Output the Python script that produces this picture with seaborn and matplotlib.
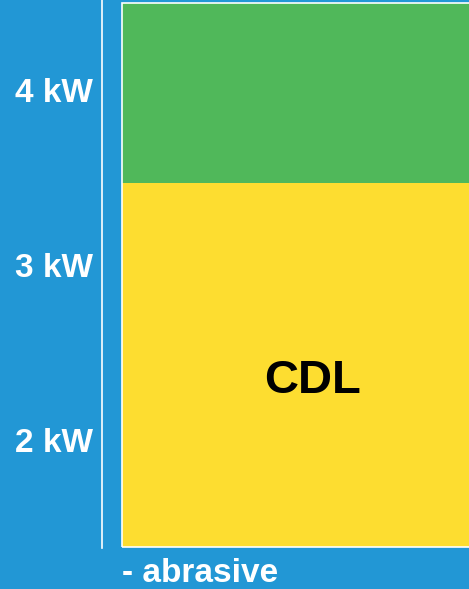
import matplotlib
matplotlib.use("Agg")
import matplotlib.pyplot as plt
import seaborn as sns

# data (kW)
category = ["CDL"]
base_kw = [1.389]      # bottom of the block
yellow_top = [3.469]   # yellow / green boundary
green_top = [4.497]    # top of the block
tick_values = [2, 3, 4]
tick_labels = ["2 kW", "3 kW", "4 kW"]

bg = "#2297D5"
yellow = "#FDDD30"
green = "#50B85A"

sns.set_style("white")
plt.rcParams["font.family"] = ["Liberation Sans", "DejaVu Sans"]

fig = plt.figure(figsize=(4.69, 5.89), dpi=100, facecolor=bg)
ax = fig.add_axes([101.5 / 469, 41 / 589, 1 - 101.5 / 469, 548 / 589])
ax.set_facecolor(bg)

yellow_h = [t - b for t, b in zip(yellow_top, base_kw)]
green_h = [t - b for t, b in zip(green_top, yellow_top)]
total_h = [t - b for t, b in zip(green_top, base_kw)]

# filled segments without edges
sns.barplot(x=category, y=yellow_h, bottom=base_kw, color=yellow, saturation=1,
            width=0.8, linewidth=0, ax=ax)
sns.barplot(x=category, y=green_h, bottom=yellow_top, color=green, saturation=1,
            width=0.8, linewidth=0, ax=ax)
# white outline around the whole block
sns.barplot(x=category, y=total_h, bottom=base_kw, fill=False,
            width=0.8, edgecolor="white", linewidth=1.2, ax=ax)

ax.set_xlim(-0.4461, 0.38)
ax.set_ylim(4 - 458 / 175, 4 + 90 / 175)
ax.set_yticks(tick_values)
ax.set_yticklabels(tick_labels, color="white", fontsize=24, fontweight="bold")
ax.tick_params(axis="y", length=0, pad=6)
ax.set_xticks([])
ax.set_xlabel("")
ax.set_ylabel("")

for s in ["top", "right", "bottom"]:
    ax.spines[s].set_visible(False)
ax.spines["left"].set_color("white")
ax.spines["left"].set_linewidth(1.2)

ax.text(0.573, 0.305, category[0], transform=ax.transAxes, ha="center", va="center",
        fontsize=34, fontweight="bold", color="black")

fig.text(122 / 469, 1 - 574 / 589, "- abrasive", ha="left", va="center",
         fontsize=24, fontweight="bold", color="white")

fig.savefig("out.png", dpi=100, facecolor=bg)
